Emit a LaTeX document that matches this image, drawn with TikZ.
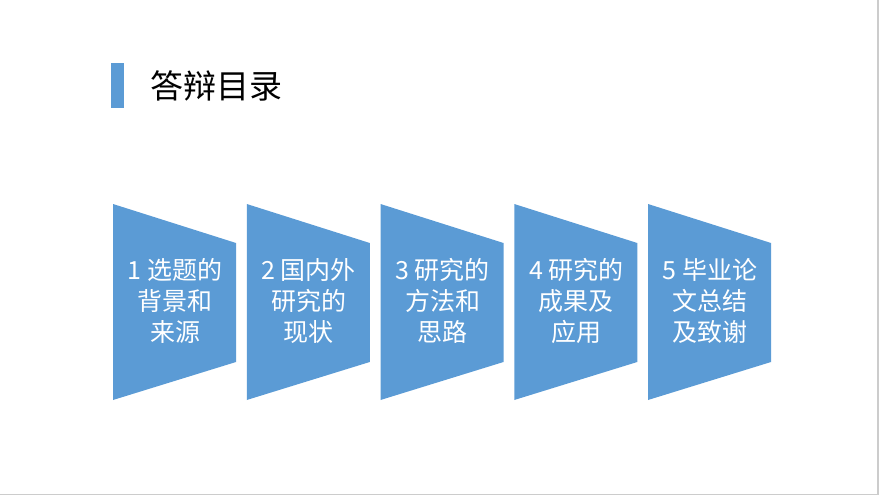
\documentclass[tikz,border=0pt]{standalone}
\usepackage{fontspec}
\newfontfamily\cjk{Noto Sans CJK SC}
\usetikzlibrary{positioning}
\definecolor{tabblue}{HTML}{5B9BD5}

\begin{document}
\begin{tikzpicture}[x=1pt, y=-1pt, every node/.style={font=\cjk},
  item text/.style={align=center, text=white, inner sep=0pt, font=\cjk\fontsize{25}{31}\selectfont}]
\path[use as bounding box] (0,0) rectangle (880,497);
\draw[black!20, line width=1.5pt] (878,0) -- (878,494.5) -- (0,494.5);
\fill[tabblue] (111,63) rectangle (124,108);
\node[anchor=west, inner sep=0pt, font=\cjk\fontsize{33}{38}\selectfont] (title) at (150,86) {答辩目录};
\foreach \i/\txt in {0/{1 选题的\\背景和\\来源}, 1/{2 国内外\\研究的\\现状}, 2/{3 研究的\\方法和\\思路},
  3/{4 研究的\\成果及\\应用}, 4/{5 毕业论\\文总结\\及致谢}} {
  \pgfmathsetmacro{\x}{113+133.75*\i}
  \fill[tabblue] (\x,204) -- (\x+123,243) -- (\x+123,362) -- (\x,400) -- cycle;
  \node[item text] (item\i) at (\x+62,301) {\txt};
}
\end{tikzpicture}
\end{document}
